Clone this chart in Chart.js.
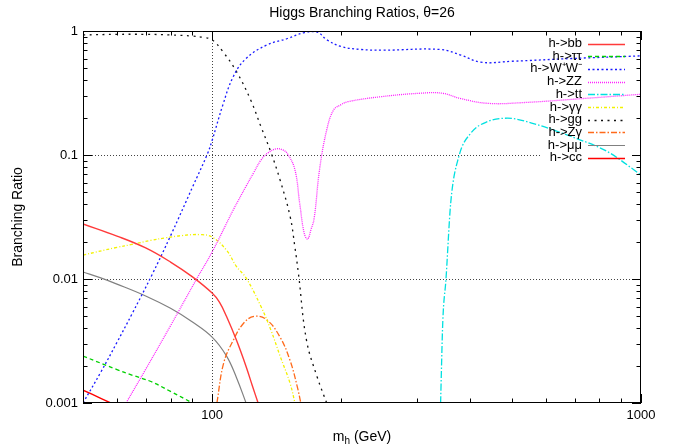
<!DOCTYPE html>
<html>
<head>
<meta charset="utf-8">
<script src="https://cdn.jsdelivr.net/npm/chart.js@4.4.1/dist/chart.umd.min.js"></script>
<style>
  html, body { margin: 0; padding: 0; background: #fff; }
  #wrap { width: 680px; height: 446px; }
</style>
</head>
<body>
<div id="wrap"><canvas id="myChart" width="680" height="446"></canvas></div>
<script>
// masses (GeV) and branching ratios, one pair per channel
const bbMass = [50, 60, 70, 80, 90, 100, 104, 108, 114, 120, 124, 128];
const bbBR = [0.0278, 0.0222, 0.0178, 0.0137, 0.0104, 0.0077, 0.0065, 0.005, 0.0032, 0.00197, 0.00139, 0.001];
const tauMass = [50, 60, 65, 72, 80, 90];
const tauBR = [0.00239, 0.00186, 0.00168, 0.00149, 0.00124, 0.001];
const wwMass = [50, 55, 60, 65, 72.5, 80, 90, 97.5, 100, 106, 112, 120, 134, 150, 164, 176, 185, 200, 222, 250, 340, 380, 423, 500, 690, 1000];
const wwBR = [0.001, 0.00177, 0.00308, 0.0052, 0.0109, 0.0223, 0.055, 0.102, 0.131, 0.255, 0.428, 0.60, 0.77, 0.87, 0.97, 0.98, 0.85, 0.75, 0.71, 0.70, 0.71, 0.64, 0.56, 0.57, 0.60, 0.63];
const zzMass = [63, 70, 80, 92, 100, 112, 120, 125, 130, 135, 141, 146, 150, 156, 160, 164, 167, 170, 173, 178, 185, 192, 200, 207, 247, 306, 344, 380, 439, 525, 750, 1000];
const zzBR = [0.001, 0.00187, 0.0042, 0.01, 0.0165, 0.036, 0.056, 0.072, 0.091, 0.104, 0.112, 0.11, 0.102, 0.076, 0.041, 0.0233, 0.021, 0.025, 0.031, 0.076, 0.159, 0.231, 0.255, 0.269, 0.295, 0.315, 0.315, 0.285, 0.261, 0.264, 0.287, 0.309];
const ttMass = [341, 345, 351, 360, 376, 401, 439, 488, 574, 687, 837, 1000];
const ttBR = [0.001, 0.0045, 0.01, 0.041, 0.097, 0.15, 0.186, 0.198, 0.175, 0.141, 0.106, 0.069];
const aaMass = [50, 60, 65, 72, 78, 85, 94, 100, 108, 114, 120, 130, 137, 144, 152, 156];
const aaBR = [0.0156, 0.018, 0.019, 0.0205, 0.0215, 0.0224, 0.0228, 0.0218, 0.0171, 0.0126, 0.0102, 0.006, 0.0039, 0.0024, 0.00144, 0.001];
const ggMass = [50, 60, 70, 80, 90, 95, 100, 106, 114, 123, 130, 137, 144, 152, 156, 159, 166, 176, 185];
const ggBR = [0.93, 0.94, 0.94, 0.93, 0.91, 0.89, 0.85, 0.68, 0.47, 0.278, 0.169, 0.106, 0.063, 0.032, 0.018, 0.011, 0.0032, 0.0016, 0.001];
const zaMass = [102.6, 106.4, 112, 118.4, 125.5, 134, 144, 152, 158, 161];
const zaBR = [0.001, 0.0021, 0.0032, 0.0044, 0.005, 0.0047, 0.0034, 0.0022, 0.00135, 0.001];
const muMass = [50, 55, 60, 70, 80, 90, 100, 108, 114, 120];
const muBR = [0.0114, 0.0102, 0.0091, 0.0073, 0.0058, 0.0045, 0.0034, 0.0024, 0.0016, 0.001];
const ccMass = [50, 55, 58];
const ccBR = [0.00127, 0.00109, 0.001];

const xMajor = [100, 1000];
const yMajor = [0.001, 0.01, 0.1, 1];
const xMinor = [50, 60, 70, 80, 90, 200, 300, 400, 500, 600, 700, 800, 900];
const yMinor = [0.002, 0.003, 0.004, 0.005, 0.006, 0.007, 0.008, 0.009,
  0.02, 0.03, 0.04, 0.05, 0.06, 0.07, 0.08, 0.09,
  0.2, 0.3, 0.4, 0.5, 0.6, 0.7, 0.8, 0.9];

function pts(m, b) {
  let out = [];
  for (let i = 0; i < m.length; i++) out.push({ x: m[i], y: b[i] });
  return out;
}
function series(label, m, b, color, dash, width, mono) {
  return {
    label: label,
    data: pts(m, b),
    borderColor: color,
    backgroundColor: color,
    borderDash: dash,
    borderWidth: width || 1.3,
    showLine: true,
    pointRadius: 0,
    fill: false,
    tension: 0.4,
    cubicInterpolationMode: mono ? 'monotone' : 'default'
  };
}

const FONT = '"Liberation Sans", Arial, Helvetica, sans-serif';

const gnuplotLook = {
  id: 'gnuplotLook',
  beforeDatasetsDraw(chart) {
    const ctx = chart.ctx, a = chart.chartArea;
    const xs = chart.scales.x, ys = chart.scales.y;
    ctx.save();
    ctx.lineWidth = 1;
    ctx.setLineDash([1, 2]);
    ctx.strokeStyle = '#444';
    const gx = Math.round(xs.getPixelForValue(100)) + 0.5;
    ctx.beginPath(); ctx.moveTo(gx, a.top); ctx.lineTo(gx, a.bottom); ctx.stroke();
    const g1 = Math.round(ys.getPixelForValue(0.1)) + 0.5;
    ctx.beginPath(); ctx.moveTo(a.left, g1); ctx.lineTo(540, g1); ctx.stroke();
    const g2 = Math.round(ys.getPixelForValue(0.01)) + 0.5;
    ctx.beginPath(); ctx.moveTo(a.left, g2); ctx.lineTo(a.right, g2); ctx.stroke();
    ctx.restore();
  },
  afterDatasetsDraw(chart) {
    const ctx = chart.ctx, a = chart.chartArea;
    const xs = chart.scales.x, ys = chart.scales.y;
    ctx.save();
    ctx.strokeStyle = '#000';
    ctx.lineWidth = 1;
    ctx.setLineDash([]);
    ctx.strokeRect(a.left + 0.5, a.top + 0.5, a.right - a.left - 1, a.bottom - a.top - 1);
    // inward ticks on all four sides
    function xt(v, len) {
      const p = Math.round(xs.getPixelForValue(v)) + 0.5;
      ctx.beginPath();
      ctx.moveTo(p, a.bottom); ctx.lineTo(p, a.bottom - len);
      ctx.moveTo(p, a.top); ctx.lineTo(p, a.top + len);
      ctx.stroke();
    }
    function yt(v, len) {
      const p = Math.round(ys.getPixelForValue(v)) + 0.5;
      ctx.beginPath();
      ctx.moveTo(a.left, p); ctx.lineTo(a.left + len, p);
      ctx.moveTo(a.right, p); ctx.lineTo(a.right - len, p);
      ctx.stroke();
    }
    xMajor.forEach(v => xt(v, 9));
    xMinor.forEach(v => xt(v, 4.5));
    yMajor.forEach(v => yt(v, 9));
    yMinor.forEach(v => yt(v, 4.5));

    // legend, gnuplot style: right aligned text, line sample on the right
    ctx.font = '13px ' + FONT;
    ctx.textAlign = 'right';
    ctx.textBaseline = 'middle';
    chart.data.datasets.forEach((ds, i) => {
      const y = 43.5 + i * 12.7;
      ctx.fillStyle = '#000';
      ctx.fillText(ds.label, 582, y);
      ctx.strokeStyle = ds.borderColor;
      ctx.lineWidth = ds.borderWidth;
      ctx.setLineDash(ds.borderDash || []);
      ctx.beginPath(); ctx.moveTo(588, Math.round(y) + 0.5); ctx.lineTo(625, Math.round(y) + 0.5); ctx.stroke();
    });
    ctx.setLineDash([]);

    // titles
    ctx.fillStyle = '#000';
    ctx.textAlign = 'center';
    ctx.font = '14px ' + FONT;
    ctx.fillText('Higgs Branching Ratios, \u03b8=26', (a.left + a.right) / 2, 13);

    ctx.save();
    ctx.translate(18, (a.top + a.bottom) / 2);
    ctx.rotate(-Math.PI / 2);
    ctx.fillText('Branching Ratio', 0, 0);
    ctx.restore();

    // x label with subscript
    ctx.textBaseline = 'alphabetic';
    ctx.textAlign = 'left';
    const big = '14px ' + FONT, small = '10px ' + FONT;
    ctx.font = big; const wm = ctx.measureText('m').width;
    ctx.font = small; const wh = ctx.measureText('h').width;
    ctx.font = big; const wr = ctx.measureText(' (GeV)').width;
    let x0 = (a.left + a.right) / 2 - (wm + wh + wr) / 2;
    const base = 441;
    ctx.font = big; ctx.fillText('m', x0, base);
    ctx.font = small; ctx.fillText('h', x0 + wm, base + 3);
    ctx.font = big; ctx.fillText(' (GeV)', x0 + wm + wh, base);
    ctx.restore();
  }
};

const ctx = document.getElementById('myChart').getContext('2d');
const myChart = new Chart(ctx, {
  type: 'scatter',
  data: {
    datasets: [
      series('h->bb', bbMass, bbBR, '#ff3a3a', [], 1.4),
      series('h->\u03c4\u03c4', tauMass, tauBR, '#00d000', [4, 3]),
      series('h->W\u207aW\u207b', wwMass, wwBR, '#1a1aff', [2, 2.5]),
      series('h->ZZ', zzMass, zzBR, '#ff22ff', [1, 1]),
      series('h->tt', ttMass, ttBR, '#00e0e0', [7, 2, 1.5, 2], 1.3, true),
      series('h->\u03b3\u03b3', aaMass, aaBR, '#f2f200', [3, 2, 1, 2]),
      series('h->gg', ggMass, ggBR, '#111', [2, 4.5]),
      series('h->Z\u03b3', zaMass, zaBR, '#ff6a1a', [6, 2, 1.5, 2]),
      series('h->\u03bc\u03bc', muMass, muBR, '#808080', [], 1.2),
      series('h->cc', ccMass, ccBR, '#ff0000', [], 1.4)
    ]
  },
  options: {
    responsive: false,
    animation: false,
    layout: { padding: { top: 31, right: 39, left: 0, bottom: 0 } },
    plugins: {
      legend: { display: false },
      title: { display: false },
      tooltip: { enabled: false }
    },
    scales: {
      x: {
        type: 'logarithmic',
        min: 50,
        max: 1000,
        grid: { display: false, drawTicks: false },
        border: { display: false },
        afterBuildTicks: s => { s.ticks = xMajor.map(v => ({ value: v })); },
        afterFit: s => { s.height = 43; },
        ticks: {
          autoSkip: false,
          maxRotation: 0,
          padding: 5,
          color: '#000',
          font: { family: FONT, size: 13 },
          callback: v => String(v)
        }
      },
      y: {
        type: 'logarithmic',
        min: 0.001,
        max: 1,
        grid: { display: false, drawTicks: false },
        border: { display: false },
        afterBuildTicks: s => { s.ticks = yMajor.map(v => ({ value: v })); },
        afterFit: s => { s.width = 83; },
        ticks: {
          autoSkip: false,
          padding: 5,
          color: '#000',
          font: { family: FONT, size: 13 },
          callback: v => String(v)
        }
      }
    }
  },
  plugins: [gnuplotLook]
});
</script>
</body>
</html>
